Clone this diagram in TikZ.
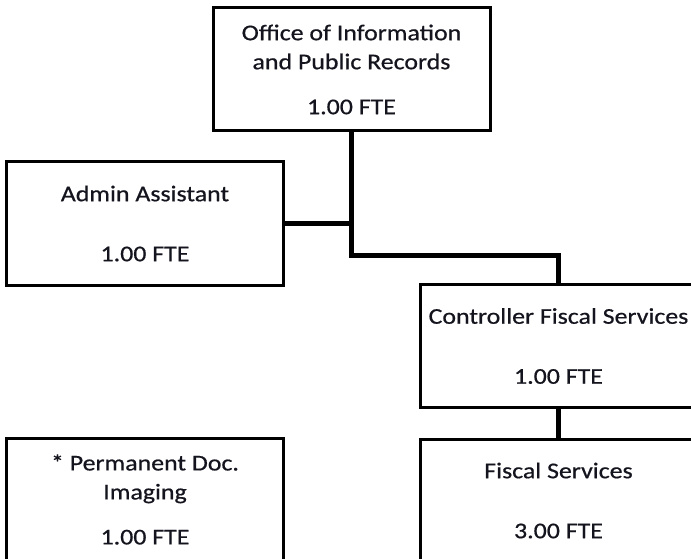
\documentclass[tikz,border=0pt]{standalone}
\usepackage{fontspec}
\setmainfont[FakeStretch=1.15, FakeBold=0.6]{Carlito}
\usepackage{xcolor}
\usepackage{tikz}
\usetikzlibrary{positioning, calc}

\definecolor{inkdark}{HTML}{14141E}
\tikzset{
  unitbox/.style={draw=black, line width=3pt, fill=white, rectangle, inner sep=0pt,
    minimum width=277pt, minimum height=123pt, align=center, text=inkdark,
    font=\fontsize{22.5}{29}\selectfont},
  link/.style={draw=black, line width=5pt}
}

\begin{document}
\begin{tikzpicture}[x=1pt, y=-1pt]
  \useasboundingbox (0, 0) rectangle (691, 559);
  \clip (0, 0) rectangle (691, 559);

  \node[unitbox] (office) at (351.5, 69.5) {Office of Information\\and Public Records\\[16pt]1.00 FTE};
  \node[unitbox] (admin) at (145, 223.5) {Admin Assistant\\[31pt]1.00 FTE};
  \node[unitbox] (ctrl) at (558.5, 346) {Controller Fiscal Services\\[31pt]1.00 FTE};
  \node[unitbox] (fiscal) at (558.5, 500.5) {Fiscal Services\\[31pt]3.00 FTE};
  \node[unitbox] (imaging) at (145, 499.5) {* Permanent Doc.\\Imaging\\[16pt]1.00 FTE};

  \coordinate (bend) at ($(office.south |- 0, 255)$);
  \draw[link] (office.south) -- (bend) -| (ctrl.north);
  \draw[link] (admin.east) -- (admin.east -| office.south);
  \draw[link] (ctrl.south) -- (fiscal.north);
\end{tikzpicture}
\end{document}
